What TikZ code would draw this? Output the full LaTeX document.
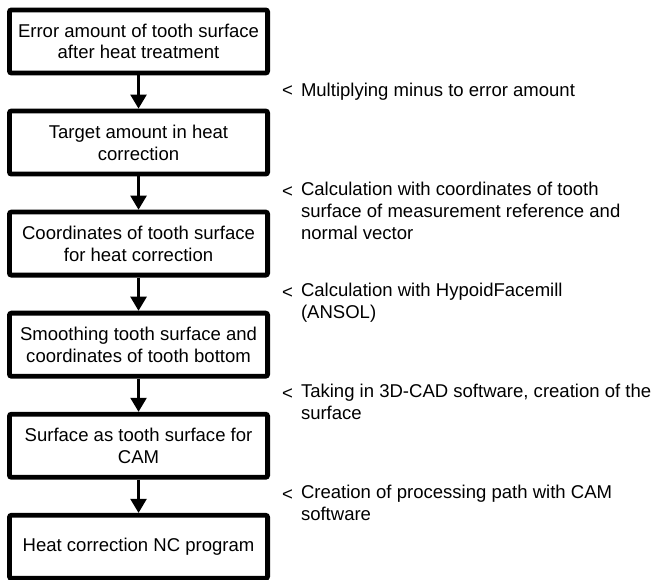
\documentclass[tikz,border=0pt]{standalone}
\usepackage{fontspec}
\setmainfont{Liberation Sans}
\usetikzlibrary{arrows.meta, positioning}

\begin{document}
\begin{tikzpicture}[
node distance=24.9pt,
block/.style={draw, rectangle, line width=3.6pt, rounded corners=1.5pt, minimum width=193.6pt, minimum height=47.3pt, inner sep=2pt, align=center, font=\fontsize{13.9pt}{16.3pt}\selectfont},
sign/.style={inner sep=0pt, font=\fontsize{13.9pt}{16.3pt}\selectfont, execute at begin node=\strut},
note/.style={inner sep=0pt, align=left, font=\fontsize{13.9pt}{16.3pt}\selectfont, execute at begin node=\strut},
arrow/.style={-{Triangle[length=10.5pt, width=12pt]}, line width=1.8pt}
]

\useasboundingbox (0,0) rectangle (492pt,-434.25pt);

% Error amount
\node[block] (error) at (103.9pt,-31.1pt) {Error amount of tooth surface\\after heat treatment};

% Target amount
\node[block, below=of error] (target) {Target amount in heat\\correction};

% Coordinates
\node[block, below=of target] (coords) {Coordinates of tooth surface\\for heat correction};

% Smoothing
\node[block, below=of coords] (smooth) {Smoothing tooth surface and\\coordinates of tooth bottom};

% Surface for CAM
\node[block, below=of smooth] (camsurf) {Surface as tooth surface for\\CAM};

% NC program
\node[block, below=of camsurf] (ncprog) {Heat correction NC program};

% Connections
\draw[arrow] (error) -- coordinate (m1) (target);
\draw[arrow] (target) -- coordinate (m2) (coords);
\draw[arrow] (coords) -- coordinate (m3) (smooth);
\draw[arrow] (smooth) -- coordinate (m4) (camsurf);
\draw[arrow] (camsurf) -- coordinate (m5) (ncprog);

% Notes
\node[sign, right=107.4pt of m1] (s1) {<};
\node[note, anchor=north west, xshift=14.25pt] (n1) at (s1.north west) {Multiplying minus to error amount};

\node[sign, right=107.4pt of m2] (s2) {<};
\node[note, anchor=north west, xshift=14.25pt] (n2) at (s2.north west) {Calculation with coordinates of tooth\\surface of measurement reference and\\normal vector};

\node[sign, right=107.4pt of m3] (s3) {<};
\node[note, anchor=north west, xshift=14.25pt] (n3) at (s3.north west) {Calculation with HypoidFacemill\\(ANSOL)};

\node[sign, right=107.4pt of m4] (s4) {<};
\node[note, anchor=north west, xshift=14.25pt] (n4) at (s4.north west) {Taking in 3D-CAD software, creation of the\\surface};

\node[sign, right=107.4pt of m5] (s5) {<};
\node[note, anchor=north west, xshift=14.25pt] (n5) at (s5.north west) {Creation of processing path with CAM\\software};

\end{tikzpicture}
\end{document}
